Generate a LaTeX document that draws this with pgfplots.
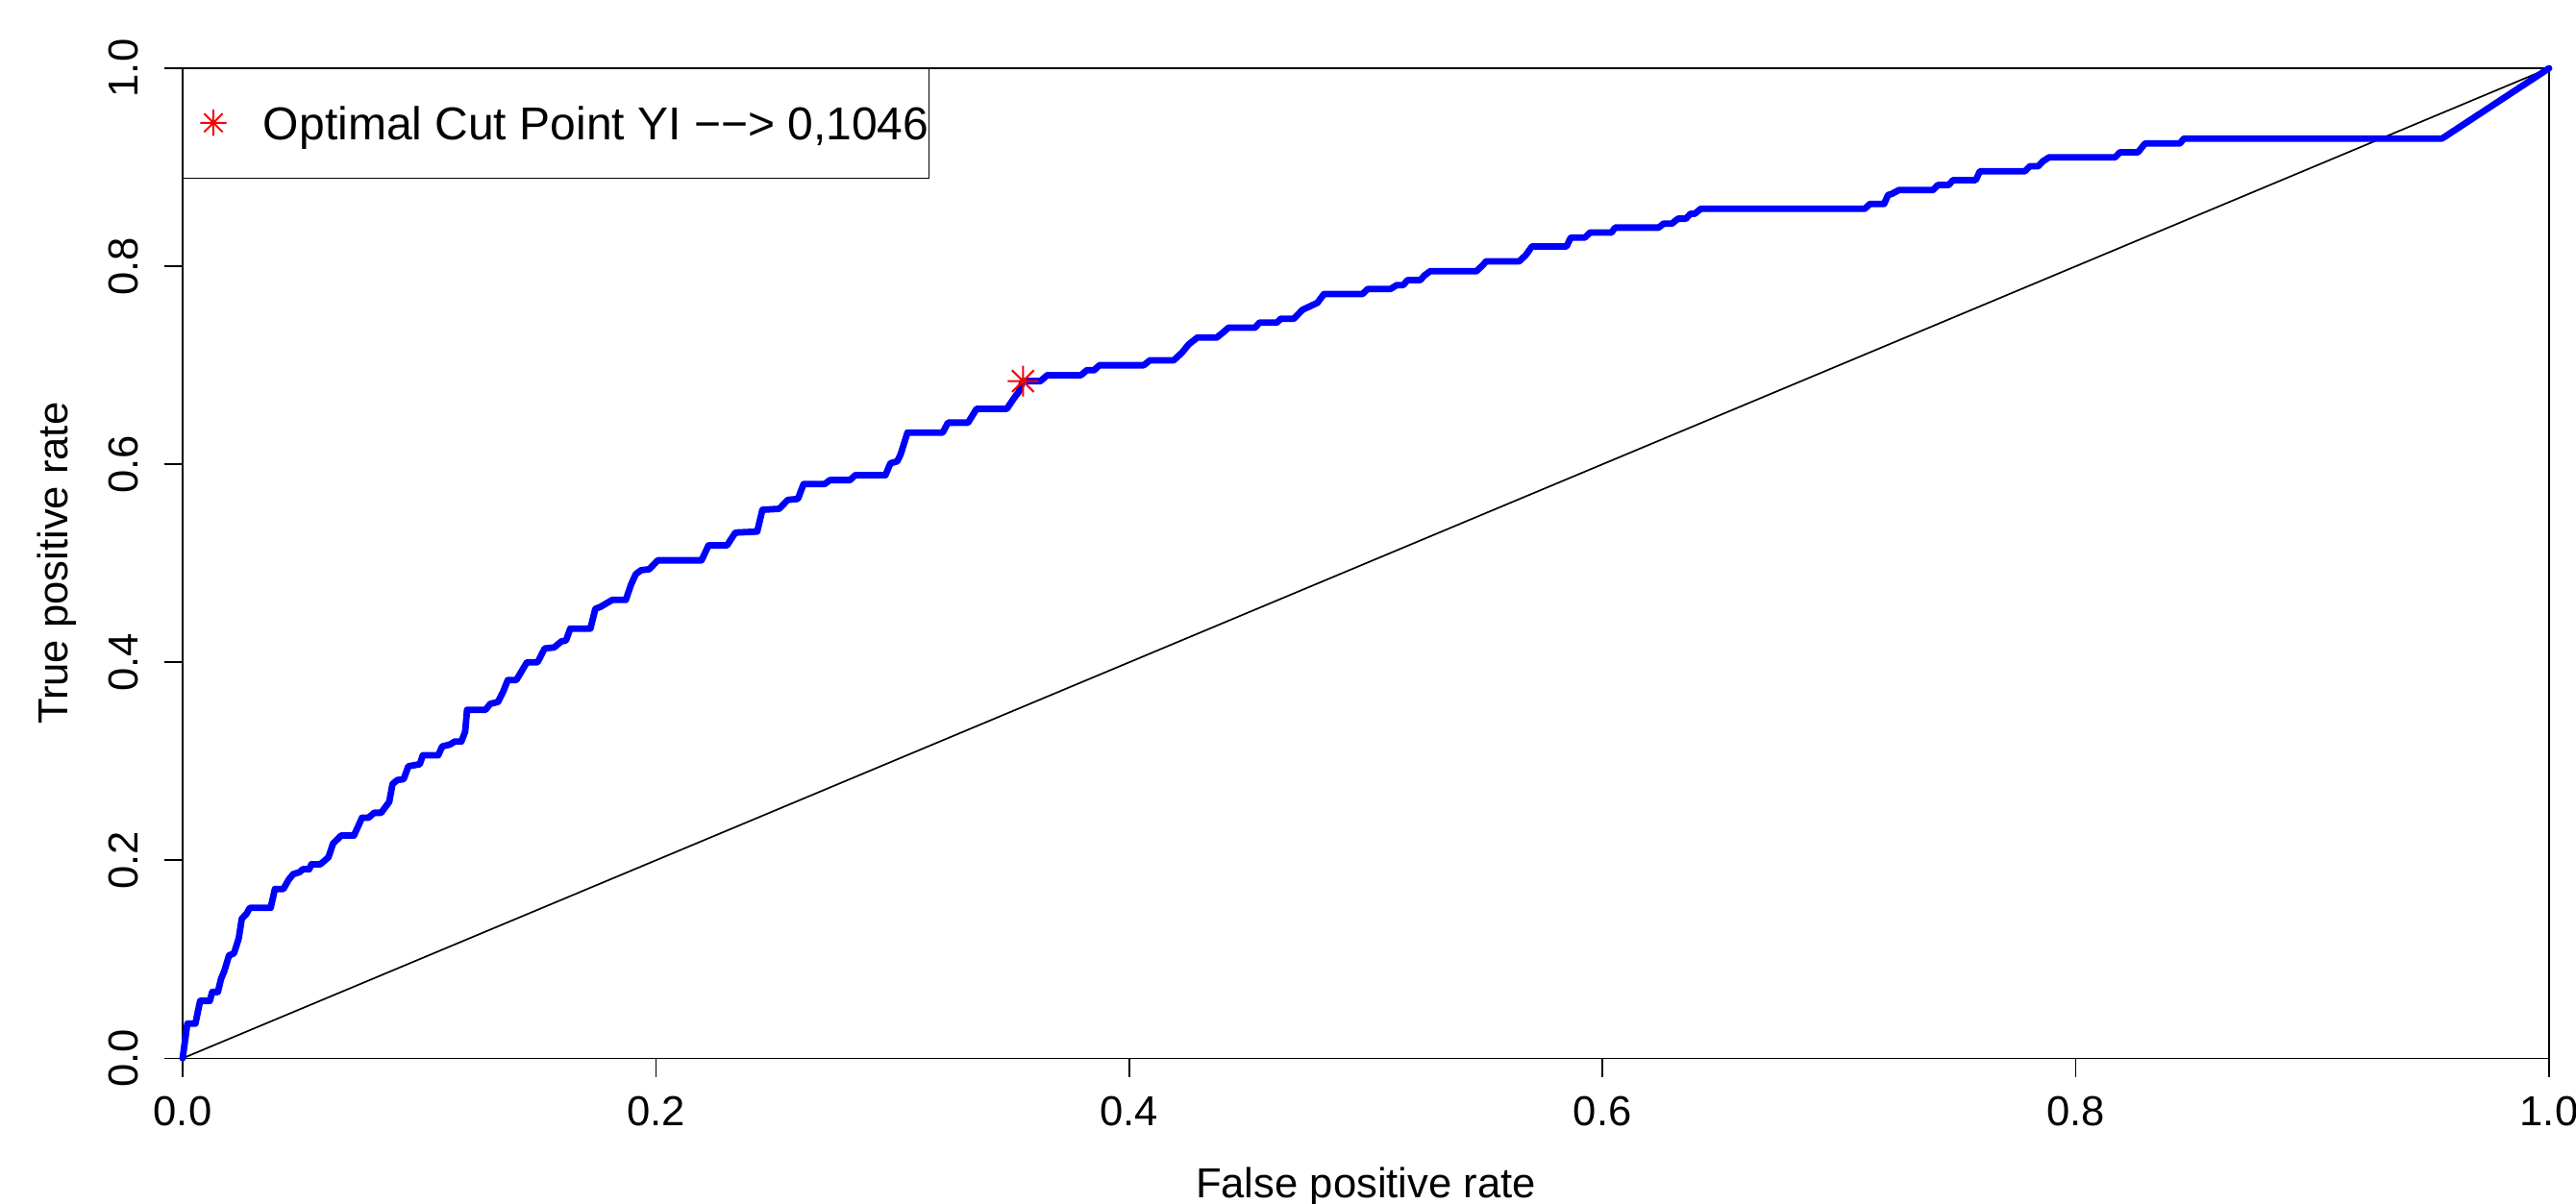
\documentclass[border=0pt]{standalone}
\usepackage{fontspec}
\setmainfont{Liberation Sans}
\usepackage{pgfplots}
\pgfplotsset{compat=1.18}

% R's pch=8: a + and an x on top of each other
\pgfdeclareplotmark{rast}{%
  \pgfpathmoveto{\pgfqpoint{-\pgfplotmarksize}{0pt}}\pgfpathlineto{\pgfqpoint{\pgfplotmarksize}{0pt}}%
  \pgfpathmoveto{\pgfqpoint{0pt}{-\pgfplotmarksize}}\pgfpathlineto{\pgfqpoint{0pt}{\pgfplotmarksize}}%
  \pgfpathmoveto{\pgfqpoint{-.7071\pgfplotmarksize}{-.7071\pgfplotmarksize}}\pgfpathlineto{\pgfqpoint{.7071\pgfplotmarksize}{.7071\pgfplotmarksize}}%
  \pgfpathmoveto{\pgfqpoint{-.7071\pgfplotmarksize}{.7071\pgfplotmarksize}}\pgfpathlineto{\pgfqpoint{.7071\pgfplotmarksize}{-.7071\pgfplotmarksize}}%
  \pgfusepathqstroke}

\begin{document}
\begin{tikzpicture}
\useasboundingbox (-47.5pt,-37.9pt) rectangle (622.5pt,275.35pt);
\begin{axis}[
  at={(0pt,0pt)}, anchor=south west,
  scale only axis, width=615.5pt, height=257.6pt,
  xmin=0, xmax=1, ymin=0, ymax=1,
  clip=false,
  axis line style={line width=0.42pt},
  every tick/.style={black, line width=0.42pt},
  tick align=outside, major tick length=4.8pt,
  xtick pos=bottom, ytick pos=left,
  xtick={0,0.2,0.4,0.6,0.8,1}, ytick={0,0.2,0.4,0.6,0.8,1},
  xticklabels={0.0,0.2,0.4,0.6,0.8,1.0},
  yticklabels={0.0,0.2,0.4,0.6,0.8,1.0},
  tick label style={font=\fontsize{10.9}{13}\selectfont},
  xticklabel style={anchor=base, yshift=-12.7pt},
  yticklabel style={anchor=base, xshift=-6.95pt, rotate=90},
  label style={font=\fontsize{10.9}{13}\selectfont},
  xlabel={False positive rate},
  ylabel={True positive rate},
  xlabel style={at={(axis description cs:0.5,0)}, anchor=base, yshift=-36.25pt},
  ylabel style={at={(axis description cs:-0.04874,0.5)}, anchor=base},
  legend style={at={(0,1)}, anchor=north west, draw=black, line width=0.42pt,
    inner sep=0pt, outer sep=0pt, font=\fontsize{12}{14}\selectfont,
    nodes={inner sep=0pt}},
  legend cell align=left,
]
\addplot[black, line width=0.42pt, forget plot] coordinates {(0,0) (1,1)};
\addplot[blue, line width=1.7pt, line join=round, line cap=round, forget plot] coordinates {
(0,0) (0.002,0.035) (0.0054,0.035) (0.0074,0.058) (0.0115,0.058) (0.0125,0.067)
(0.0149,0.067) (0.0162,0.080) (0.0176,0.088) (0.0196,0.104) (0.0217,0.106)
(0.0237,0.121) (0.025,0.141) (0.027,0.146) (0.0284,0.152) (0.0372,0.152)
(0.039,0.171) (0.0426,0.171) (0.0447,0.180) (0.0467,0.186) (0.0494,0.188)
(0.0508,0.191) (0.0535,0.191) (0.0544,0.196) (0.0582,0.196) (0.0616,0.203)
(0.0636,0.217) (0.067,0.225) (0.0724,0.225) (0.0758,0.243) (0.0785,0.243)
(0.081,0.248) (0.0839,0.248) (0.0873,0.259) (0.0887,0.277) (0.0907,0.281)
(0.0934,0.282) (0.0954,0.295) (0.1002,0.297) (0.1015,0.306) (0.108,0.306)
(0.1097,0.315) (0.113,0.317) (0.115,0.320) (0.1178,0.320) (0.1194,0.330)
(0.1202,0.352) (0.128,0.352) (0.130,0.358) (0.1333,0.360) (0.1354,0.370)
(0.1374,0.382) (0.141,0.382) (0.1435,0.392) (0.1455,0.400) (0.150,0.400)
(0.153,0.414) (0.157,0.415) (0.160,0.421) (0.162,0.422) (0.1638,0.434)
(0.1723,0.434) (0.1744,0.454) (0.1766,0.456) (0.1794,0.460) (0.1816,0.463)
(0.1873,0.463) (0.1894,0.478) (0.1915,0.489) (0.1937,0.493) (0.1972,0.494)
(0.2008,0.503) (0.2193,0.503) (0.2222,0.518) (0.230,0.518) (0.2336,0.531)
(0.2428,0.532) (0.245,0.554) (0.2521,0.555) (0.2557,0.564) (0.26,0.565)
(0.2624,0.580) (0.2713,0.580) (0.2735,0.584) (0.282,0.584) (0.2842,0.589)
(0.297,0.589) (0.2991,0.601) (0.302,0.603) (0.3034,0.610) (0.3063,0.632)
(0.3212,0.632) (0.3234,0.642) (0.3319,0.642) (0.3355,0.656) (0.3483,0.656)
(0.3511,0.666) (0.3533,0.673) (0.3551,0.684) (0.3625,0.684) (0.3654,0.690)
(0.3796,0.690) (0.3821,0.695) (0.3852,0.695) (0.3874,0.700) (0.4061,0.700)
(0.4088,0.705) (0.4188,0.705) (0.4224,0.713) (0.4251,0.721) (0.4288,0.728)
(0.437,0.728) (0.4396,0.733) (0.442,0.738) (0.4532,0.738) (0.455,0.743)
(0.4623,0.743) (0.4641,0.747) (0.4696,0.747) (0.4732,0.756) (0.4777,0.761)
(0.4795,0.763) (0.4823,0.772) (0.4986,0.772) (0.5008,0.777) (0.5104,0.777)
(0.5131,0.781) (0.5158,0.781) (0.5176,0.786) (0.523,0.786) (0.5249,0.791)
(0.5272,0.795) (0.5467,0.795) (0.5494,0.801) (0.5508,0.805) (0.5648,0.805)
(0.5675,0.811) (0.5702,0.820) (0.5848,0.820) (0.5866,0.829) (0.5926,0.829)
(0.5947,0.834) (0.6038,0.834) (0.6053,0.839) (0.6237,0.839) (0.6258,0.843)
(0.6293,0.843) (0.6319,0.848) (0.6352,0.848) (0.6372,0.853) (0.639,0.853)
(0.6415,0.858) (0.7108,0.858) (0.7131,0.863) (0.719,0.863) (0.7207,0.872)
(0.7222,0.873) (0.7253,0.877) (0.7397,0.877) (0.7417,0.882) (0.7463,0.882)
(0.7481,0.887) (0.7577,0.887) (0.7595,0.896) (0.7785,0.896) (0.7806,0.901)
(0.7841,0.901) (0.7861,0.906) (0.7887,0.910) (0.8166,0.910) (0.8186,0.915)
(0.8262,0.915) (0.8293,0.924) (0.844,0.924) (0.8457,0.929) (0.9548,0.929)
(1,1)
};
\addplot[red, only marks, mark=rast, mark size=4pt, line width=0.5pt,
  legend image code/.code={%
    \path[draw=none, fill=none] (0pt,-13.6pt) rectangle (21pt,15pt);
    \draw[mark size=3.4pt] plot coordinates {(8pt,0.8pt)};}]
  coordinates {(0.3551,0.684)};
\addlegendentry{Optimal Cut Point YI −−> 0,1046\hspace{1.75pt}}
\end{axis}
\end{tikzpicture}
\end{document}
